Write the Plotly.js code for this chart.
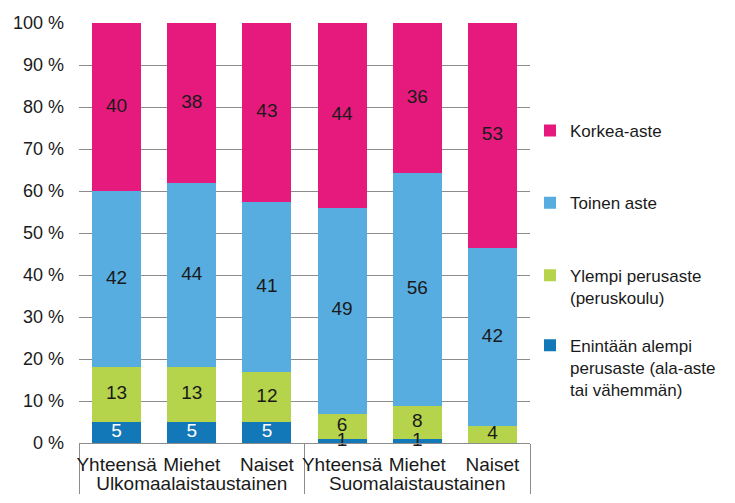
<!DOCTYPE html>
<html>
<head>
<meta charset="utf-8">
<script src="https://cdn.plot.ly/plotly-3.0.1.min.js"></script>
<style>html,body{margin:0;padding:0;background:#fff;}#chart{width:735px;height:503px;}</style>
</head>
<body>
<div id="chart"></div>
<script>
// Category levels
var groups = ['Ulkomaalaistaustainen','Ulkomaalaistaustainen','Ulkomaalaistaustainen',
              'Suomalaistaustainen','Suomalaistaustainen','Suomalaistaustainen'];
var subgroups = ['Yhteensä','Miehet','Naiset','Yhteensä','Miehet','Naiset'];

// Series values (%)
var enintaan = [5, 5, 5, 1, 1, 0];
var ylempi   = [13, 13, 12, 6, 8, 4];
var toinen   = [42, 44, 41, 49, 56, 42];
var korkea   = [40, 38, 43, 44, 36, 53];

// Series names
var names = {
  enintaan: 'Enintään alempi<br>perusaste (ala-aste<br>tai vähemmän)',
  ylempi: 'Ylempi perusaste<br>(peruskoulu)',
  toinen: 'Toinen aste',
  korkea: 'Korkea-aste'
};

var colors = {enintaan:'#1378B8', ylempi:'#B5D44B', toinen:'#57ADE0', korkea:'#E61A7D'};

var FONT = 'Liberation Sans, Arial, sans-serif';
var series = [
  {key:'enintaan', vals: enintaan, legend:'legend4'},
  {key:'ylempi',   vals: ylempi,   legend:'legend3'},
  {key:'toinen',   vals: toinen,   legend:'legend2'},
  {key:'korkea',   vals: korkea,   legend:'legend'}
];

var data = series.map(function(s){
  return {
    type: 'bar',
    x: [groups, subgroups],
    y: s.vals,
    name: names[s.key],
    legend: s.legend,
    marker: {color: colors[s.key], line: {width: 0}},
    hoverinfo: 'skip'
  };
});

// Data labels: one text layer on top of all bars, centred in each (normalised) segment
var lx0 = [], lx1 = [], ly = [], lt = [], lc = [];
for (var i = 0; i < subgroups.length; i++) {
  var total = 0;
  series.forEach(function(s){ total += s.vals[i]; });
  var cum = 0;
  series.forEach(function(s, k){
    var v = s.vals[i] / total * 100;
    if (s.vals[i] > 0) {
      lx0.push(groups[i]); lx1.push(subgroups[i]);
      ly.push(cum + v / 2);
      lt.push(String(s.vals[i]));
      lc.push(k === 0 && s.vals[i] >= 3 ? '#ffffff' : '#1a1a1a');
    }
    cum += v;
  });
}
data.push({
  type: 'scatter', mode: 'text',
  x: [lx0, lx1], y: ly, text: lt,
  textposition: 'middle center',
  textfont: {family: FONT, size: 19, color: lc},
  showlegend: false, hoverinfo: 'skip', cliponaxis: false
});

function leg(y){
  return {x: 1.0, xanchor: 'left', y: y, yanchor: 'middle', valign: 'top',
          bgcolor: 'rgba(0,0,0,0)', borderwidth: 0, itemwidth: 30,
          font: {family: FONT, size: 17, color: '#1a1a1a'}};
}

var layout = {
  width: 735, height: 503,
  margin: {l: 79, r: 205, t: 23, b: 60},
  paper_bgcolor: '#ffffff', plot_bgcolor: '#ffffff',
  barmode: 'stack',
  barnorm: 'percent',
  bargap: 0.35,
  showlegend: true,
  legend: leg(0.743),
  legend2: leg(0.571),
  legend3: leg(0.372),
  legend4: leg(0.179),
  xaxis: {
    type: 'multicategory',
    showgrid: false,
    showline: true, linecolor: '#8c8c8c', linewidth: 1,
    ticks: '',
    tickangle: 0,
    ticklabelstandoff: 4,
    showdividers: true, dividercolor: '#8c8c8c', dividerwidth: 1,
    tickfont: {family: FONT, size: 19, color: '#1a1a1a'},
    automargin: false
  },
  yaxis: {
    range: [0, 100],
    dtick: 10,
    tick0: 0,
    ticksuffix: ' %',
    showgrid: true, gridcolor: '#8c8c8c', gridwidth: 1,
    zeroline: false,
    showline: false,
    ticks: '',
    ticklabelstandoff: 14,
    tickfont: {family: FONT, size: 18, color: '#1a1a1a'},
    automargin: false
  }
};

Plotly.newPlot('chart', data, layout, {displayModeBar: false, staticPlot: true});
</script>
</body>
</html>
